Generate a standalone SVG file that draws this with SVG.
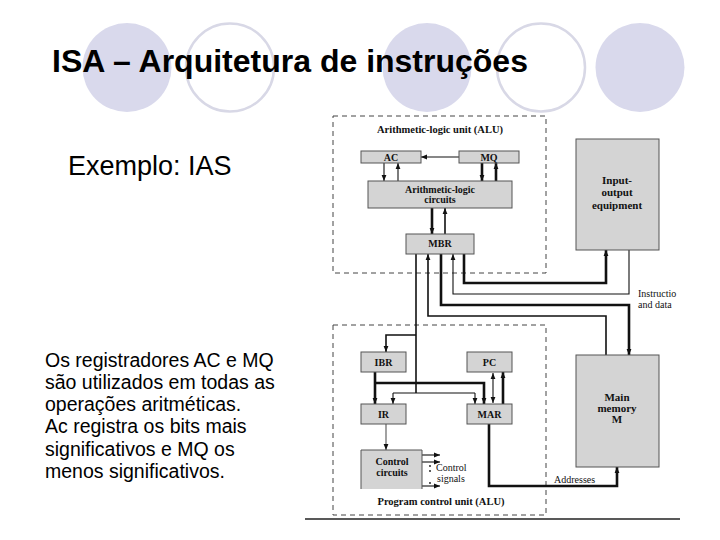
<svg xmlns="http://www.w3.org/2000/svg" width="720" height="540" viewBox="0 0 720 540">
<defs>
<style>
.bgf{fill:#d9d9ec;stroke:none}
.bgo{fill:none;stroke:#d8d8e6;stroke-width:2.5}
.title{font-family:"Liberation Sans",Arial,sans-serif;font-weight:bold;font-size:32px;fill:#000}
.sub{font-family:"Liberation Sans",Arial,sans-serif;font-size:27px;fill:#000}
.para{font-family:"Liberation Sans",Arial,sans-serif;font-size:19.5px;fill:#000}
.dash{fill:none;stroke:#444;stroke-width:1;stroke-dasharray:5 4}
.box{fill:#d4d4d4;stroke:#555;stroke-width:1}
.lb{font-family:"Liberation Serif","Times New Roman",serif;font-weight:bold;font-size:10px;fill:#111;text-anchor:middle}
.lbig{font-family:"Liberation Serif","Times New Roman",serif;font-weight:bold;font-size:11px;fill:#111;text-anchor:middle}
.lh{font-family:"Liberation Serif","Times New Roman",serif;font-weight:bold;font-size:10.5px;fill:#111;text-anchor:middle}
.ln{font-family:"Liberation Serif","Times New Roman",serif;font-size:10px;fill:#111}
.w1{fill:none;stroke:#111;stroke-width:1.1}
.w2{fill:none;stroke:#111;stroke-width:1.6}
.w3{fill:none;stroke:#111;stroke-width:2.6}
.g{fill:none;stroke:#555;stroke-width:1.1}
</style>
<marker id="ah" viewBox="0 0 10 10" refX="10" refY="5" markerUnits="userSpaceOnUse" markerWidth="6" markerHeight="6" orient="auto-start-reverse">
<path d="M0,1 L10,5 L0,9 z" fill="#111"/>
</marker>
</defs>
<rect width="720" height="540" fill="#fff"/>
<g id="background">
<circle class="bgf" cx="127" cy="67.5" r="44.5"/>
<circle class="bgo" cx="230" cy="67.5" r="44"/>
<circle class="bgf" cx="427" cy="67.5" r="44.5"/>
<circle class="bgo" cx="541" cy="67.5" r="44"/>
<circle class="bgf" cx="640" cy="67.5" r="44.5"/>
</g>
<g id="title"><text class="title" x="52" y="72">ISA – Arquitetura de instruções</text></g>
<g id="subtitle"><text class="sub" x="68" y="175">Exemplo: IAS</text></g>
<g id="paragraph">
<text class="para" x="45" y="367">Os registradores AC e MQ</text>
<text class="para" x="45" y="389">são utilizados em todas as</text>
<text class="para" x="45" y="411">operações aritméticas.</text>
<text class="para" x="45" y="433">Ac registra os bits mais</text>
<text class="para" x="45" y="456">significativos e MQ os</text>
<text class="para" x="45" y="478">menos significativos.</text>
</g>
<g id="alu-unit">
<rect class="dash" x="333" y="116" width="213" height="157"/>
<text class="lh" x="440" y="133">Arithmetic-logic unit (ALU)</text>
</g>
<g id="pcu-unit">
<rect class="dash" x="333" y="325" width="213" height="190"/>
<text class="lh" x="441" y="505">Program control unit (ALU)</text>
</g>
<g id="connectors">
<path class="w1" d="M459,157 H421" marker-end="url(#ah)"/>
<path class="w1" d="M384,163 V181" marker-end="url(#ah)"/>
<path class="w1" d="M398,181 V163" marker-end="url(#ah)"/>
<path class="w3" d="M482,163 V181" marker-end="url(#ah)"/>
<path class="w3" d="M496,181 V163" marker-end="url(#ah)"/>
<path class="w3" d="M432,208 V234" marker-end="url(#ah)"/>
<path class="w2" d="M445,234 V208" marker-end="url(#ah)"/>
<path class="w3" d="M464,254 V283 H606 V250" marker-end="url(#ah)"/>
<path class="w1" d="M629,250 V294 H453 V254" marker-end="url(#ah)"/>
<path class="w3" d="M441,254 V305 H629 V355" marker-end="url(#ah)"/>
<path class="w2" d="M606,355 V316 H428 V254" marker-end="url(#ah)"/>
<path class="w2" d="M416,254 V393"/>
<path class="w2" d="M416,335 H386 V352" marker-end="url(#ah)"/>
<path class="w1" d="M393,393 H475"/>
<path class="w1" d="M393,393 V404" marker-end="url(#ah)"/>
<path class="w1" d="M475,393 V404" marker-end="url(#ah)"/>
<path class="w3" d="M375,372 V404" marker-end="url(#ah)"/>
<path class="w3" d="M375,383 H484 V404" marker-end="url(#ah)"/>
<path class="w1" d="M493,373 V403" marker-start="url(#ah)" marker-end="url(#ah)"/>
<path class="w3" d="M503,404 V372" marker-end="url(#ah)"/>
<path class="g" d="M386,424 V450" marker-end="url(#ah)"/>
<path class="w1" d="M422,455 H440" marker-end="url(#ah)"/>
<path class="w1" d="M422,462 H440" marker-end="url(#ah)"/>
<path class="w1" d="M422,486 H440" marker-end="url(#ah)"/>
<path class="w3" d="M489,424 V486 H617 V467" marker-end="url(#ah)"/>
<circle cx="430" cy="466" r="0.9" fill="#111"/>
<circle cx="430" cy="471" r="0.9" fill="#111"/>
<circle cx="430" cy="483" r="0.9" fill="#111"/>
<text class="ln" x="436" y="471">Control</text>
<text class="ln" x="437" y="482">signals</text>
<text class="ln" x="554" y="483">Addresses</text>
<text class="ln" x="638" y="297">Instructio</text>
<text class="ln" x="638" y="308">and data</text>
</g>
<g id="ac"><rect class="box" x="361" y="151" width="60" height="12"/><text class="lb" x="391" y="160.5">AC</text></g>
<g id="mq"><rect class="box" x="459" y="151" width="60" height="12"/><text class="lb" x="489" y="160.5">MQ</text></g>
<g id="alc"><rect class="box" x="368" y="181" width="144" height="27"/><text class="lb" x="440" y="193">Arithmetic-logic</text><text class="lb" x="440" y="203">circuits</text></g>
<g id="mbr"><rect class="box" x="406" y="234" width="68" height="20"/><text class="lb" x="440" y="247">MBR</text></g>
<g id="io"><rect class="box" x="576" y="139" width="83" height="111"/><text class="lbig" x="617" y="184">Input-</text><text class="lbig" x="617" y="196">output</text><text class="lbig" x="617" y="209">equipment</text></g>
<g id="ibr"><rect class="box" x="361" y="352" width="45" height="20"/><text class="lb" x="383.5" y="365.5">IBR</text></g>
<g id="pc"><rect class="box" x="467" y="352" width="45" height="20"/><text class="lb" x="489.5" y="365.5">PC</text></g>
<g id="ir"><rect class="box" x="361" y="404" width="45" height="20"/><text class="lb" x="383.5" y="417.5">IR</text></g>
<g id="mar"><rect class="box" x="467" y="404" width="45" height="20"/><text class="lb" x="489.5" y="417.5">MAR</text></g>
<g id="control"><rect x="361" y="450" width="61" height="39" fill="#d4d4d4"/><path d="M361,489 V450 H422 V489" fill="none" stroke="#555" stroke-width="1"/><text class="lb" x="392" y="465">Control</text><text class="lb" x="392" y="476">circuits</text></g>
<g id="memory"><rect class="box" x="576" y="355" width="83" height="112"/><text class="lbig" x="617" y="401">Main</text><text class="lbig" x="617" y="412">memory</text><text class="lbig" x="617" y="423">M</text></g>
<g id="rule"><path d="M305,519 H680" stroke="#222" stroke-width="1.3"/></g>
</svg>
